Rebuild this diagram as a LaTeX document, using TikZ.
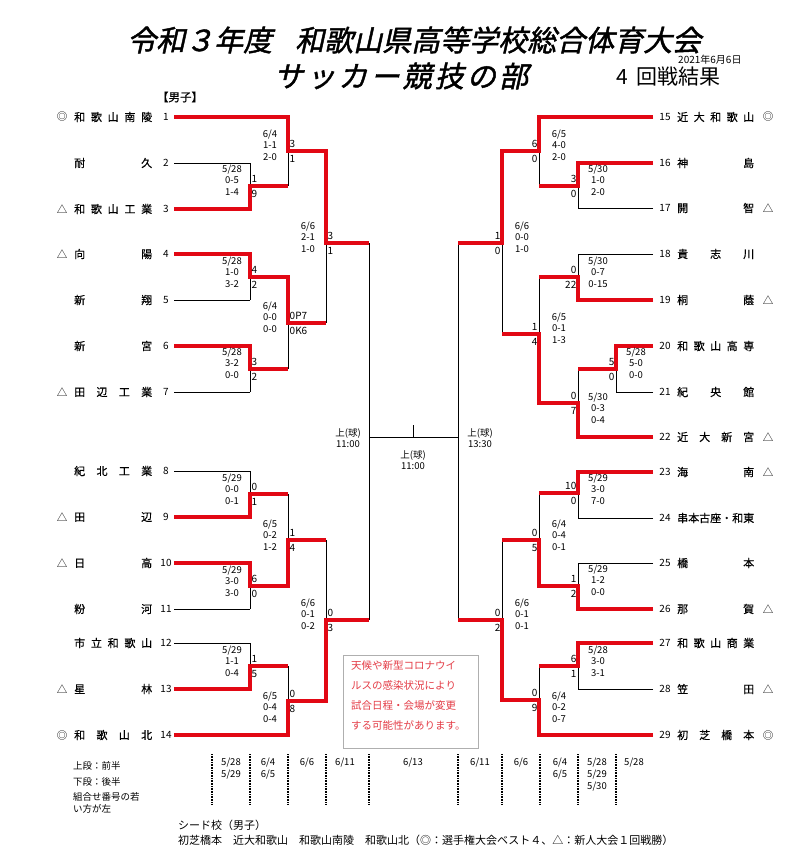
\documentclass[tikz,border=0pt]{standalone}
\usepackage{fontspec}
\setmainfont{Noto Sans CJK JP}
\newfontfamily\ttlfont[FakeSlant=0.22,FakeBold=1.5]{Noto Sans CJK JP}
\newfontfamily\subfont[FakeBold=0.6]{Noto Sans CJK JP}
\newfontfamily\namefont[FakeBold=0.4]{Noto Sans CJK JP}
\definecolor{brk}{RGB}{226,8,20}
\definecolor{notered}{RGB}{228,60,70}
\definecolor{boxgray}{RGB}{175,175,175}
\newcommand\LM[7]{%
  \node[sc,anchor=west] (#1a) at (#2+1.5,#3-7.5) {#4};
  \node[sc,anchor=west] (#1b) at (#2+1.5,#3+7.5) {#5};
  \node[dt] (#1d) at (#2-18,#6) {#7};}
\newcommand\RM[7]{%
  \node[sc,anchor=east] (#1a) at (#2-1.5,#3-7.5) {#4};
  \node[sc,anchor=east] (#1b) at (#2-1.5,#3+7.5) {#5};
  \node[dt] (#1d) at (#2+20,#6) {#7};}
\begin{document}
\begin{tikzpicture}[x=1pt,y=-1pt,
  blk/.style={line width=1pt,black},
  win/.style={line width=4pt,brk},
  nm/.style={inner sep=0pt,font=\namefont\fontsize{11}{13}\selectfont},
  num/.style={inner sep=0pt,font=\fontsize{10}{12}\selectfont},
  mk/.style={inner sep=0pt,font=\fontsize{10.5}{12}\selectfont},
  sc/.style={inner sep=0pt,font=\fontsize{10}{12}\selectfont},
  dt/.style={inner sep=0pt,align=center,font=\fontsize{9.5}{11.5}\selectfont},
  small/.style={inner sep=0pt,font=\fontsize{9.5}{11.5}\selectfont},
  dots/.style={line width=1.5pt,dash pattern=on 0.8pt off 0.8pt}]
\useasboundingbox (0,0) rectangle (800,847);
\fill[white] (0,0) rectangle (800,847);

% ---------- titles ----------
\node[inner sep=0pt,anchor=west,font=\ttlfont\fontsize{29}{32}\selectfont] (title) at (127,40)
  {\makebox[574pt][s]{令和３年度\hfill 和歌山県高等学校総合体育大会}};
\node[inner sep=0pt,anchor=west,font=\ttlfont\fontsize{29}{32}\selectfont] (sub) at (274,76)
  {\makebox[254pt][s]{サ\hfill ッ\hfill カ\hfill ー\hfill 競\hfill 技\hfill の\hfill 部}};
\node[inner sep=0pt,anchor=west,font=\fontsize{21}{23}\selectfont] (round) at (616,77)
  {\makebox[104pt][s]{4\hfill 回戦結果}};
\node[inner sep=0pt,anchor=west,font=\fontsize{10}{12}\selectfont] (date) at (678,59.5) {2021年6月6日};
\node[inner sep=0pt,font=\subfont\fontsize{11.5}{13}\selectfont] (boys) at (180,97) {【男子】};

% ---------- black bracket lines ----------
\foreach \y/\x in {117/288,163/250,209/250,254/250,300/250,346/250,392/250,
                   471/250,517/250,563/250,609/250,643/250,689/250,735/288}
  \draw[blk] (174,\y)--(\x,\y);
\draw[blk] (250,163)--(250,209) (250,186)--(288,186);
\draw[blk] (250,254)--(250,300) (250,277)--(288,277);
\draw[blk] (250,346)--(250,392) (250,369)--(288,369);
\draw[blk] (288,117)--(288,186) (288,151)--(326,151);
\draw[blk] (288,277)--(288,369) (288,323)--(326,323);
\draw[blk] (326,151)--(326,323) (326,243)--(369,243);
\draw[blk] (250,471)--(250,517) (250,494)--(288,494);
\draw[blk] (250,563)--(250,609) (250,586)--(288,586);
\draw[blk] (250,643)--(250,689) (250,666)--(288,666);
\draw[blk] (288,494)--(288,586) (288,540)--(326,540);
\draw[blk] (288,666)--(288,735) (288,701)--(326,701);
\draw[blk] (326,540)--(326,701) (326,620)--(369,620);
\draw[blk] (369,243)--(369,620) (369,437)--(458,437) (413,425)--(413,437);
\draw[blk] (458,243)--(458,620);
\foreach \y/\x in {117/539,163/578,208/578,254/578,300/578,346/616,392/616,437/578,
                   472/578,518/578,563/578,609/578,643/578,689/578,735/539}
  \draw[blk] (653,\y)--(\x,\y);
\draw[blk] (578,163)--(578,208) (578,186)--(539,186);
\draw[blk] (578,254)--(578,300) (578,277)--(539,277);
\draw[blk] (616,346)--(616,392) (616,369)--(578,369);
\draw[blk] (578,369)--(578,437) (578,403)--(539,403);
\draw[blk] (539,117)--(539,186) (539,151)--(502,151);
\draw[blk] (539,277)--(539,403) (539,334)--(502,334);
\draw[blk] (502,151)--(502,334) (502,243)--(458,243);
\draw[blk] (578,472)--(578,518) (578,493)--(539,493);
\draw[blk] (578,563)--(578,609) (578,586)--(539,586);
\draw[blk] (578,643)--(578,689) (578,666)--(539,666);
\draw[blk] (539,493)--(539,586) (539,540)--(502,540);
\draw[blk] (539,666)--(539,735) (539,700)--(502,700);
\draw[blk] (502,540)--(502,700) (502,620)--(458,620);

% ---------- winners (red) ----------
\draw[win] (174,117)--(288,117)--(288,151)--(326,151)--(326,243)--(369,243);
\draw[win] (174,209)--(250,209)--(250,186)--(288,186);
\draw[win] (174,254)--(250,254)--(250,277)--(288,277)--(288,323)--(326,323);
\draw[win] (174,346)--(250,346)--(250,369)--(288,369);
\draw[win] (174,517)--(250,517)--(250,494)--(288,494);
\draw[win] (174,563)--(250,563)--(250,586)--(288,586)--(288,540)--(326,540);
\draw[win] (174,689)--(250,689)--(250,666)--(288,666);
\draw[win] (174,735)--(288,735)--(288,701)--(326,701)--(326,620)--(369,620);
\draw[win] (653,117)--(539,117)--(539,151)--(502,151)--(502,243)--(458,243);
\draw[win] (653,163)--(578,163)--(578,186)--(539,186);
\draw[win] (653,300)--(578,300)--(578,277)--(539,277);
\draw[win] (653,346)--(616,346)--(616,369)--(578,369);
\draw[win] (653,437)--(578,437)--(578,403)--(539,403)--(539,334)--(502,334);
\draw[win] (653,472)--(578,472)--(578,493)--(539,493);
\draw[win] (653,609)--(578,609)--(578,586)--(539,586)--(539,540)--(502,540);
\draw[win] (653,643)--(578,643)--(578,666)--(539,666);
\draw[win] (653,735)--(539,735)--(539,700)--(502,700)--(502,620)--(458,620);

% ---------- left teams ----------
\foreach \n/\y/\m/\t in {
  1/117/◎/{和\hfill 歌\hfill 山\hfill 南\hfill 陵},
  2/163//{耐\hfill 久},
  3/209/△/{和\hfill 歌\hfill 山\hfill 工\hfill 業},
  4/254/△/{向\hfill 陽},
  5/300//{新\hfill 翔},
  6/346//{新\hfill 宮},
  7/392/△/{田\hfill 辺\hfill 工\hfill 業},
  8/471//{紀\hfill 北\hfill 工\hfill 業},
  9/517/△/{田\hfill 辺},
  10/563/△/{日\hfill 高},
  11/609//{粉\hfill 河},
  12/643//{市\hfill 立\hfill 和\hfill 歌\hfill 山},
  13/689/△/{星\hfill 林},
  14/735/◎/{和\hfill 歌\hfill 山\hfill 北}}{
  \node[mk] (mk\n) at (62,\y) {\m};
  \node[nm,anchor=west] (tm\n) at (74,\y) {\makebox[78pt][s]{\t}};
  \node[num] (no\n) at (166,\y) {\n};
}
% ---------- right teams ----------
\foreach \n/\y/\m/\t in {
  15/117/◎/{近\hfill 大\hfill 和\hfill 歌\hfill 山},
  16/163//{神\hfill 島},
  17/208/△/{開\hfill 智},
  18/254//{貴\hfill 志\hfill 川},
  19/300/△/{桐\hfill 蔭},
  20/346//{和\hfill 歌\hfill 山\hfill 高\hfill 専},
  21/392//{紀\hfill 央\hfill 館},
  22/437/△/{近\hfill 大\hfill 新\hfill 宮},
  23/472/△/{海\hfill 南},
  24/518//{串\hfill 本\hfill 古\hfill 座\hfill ・\hfill 和\hfill 東},
  25/563//{橋\hfill 本},
  26/609/△/{那\hfill 賀},
  27/643//{和\hfill 歌\hfill 山\hfill 商\hfill 業},
  28/689/△/{笠\hfill 田},
  29/735/◎/{初\hfill 芝\hfill 橋\hfill 本}}{
  \node[num] (no\n) at (665,\y) {\n};
  \node[nm,anchor=west] (tm\n) at (677,\y) {\makebox[77pt][s]{\t}};
  \node[mk] (mk\n) at (768,\y) {\m};
}

% ---------- scores, left ----------
\LM{ma}{250}{186}{1}{9}{180}{5/28\\0-5\\1-4}
\LM{mb}{250}{277}{4}{2}{272}{5/28\\1-0\\3-2}
\LM{mc}{250}{369}{3}{2}{363}{5/28\\3-2\\0-0}
\LM{md}{288}{151}{3}{1}{145}{6/4\\1-1\\2-0}
\LM{me}{288}{323}{0P7}{0K6}{317}{6/4\\0-0\\0-0}
\LM{mf}{326}{243}{3}{1}{237}{6/6\\2-1\\1-0}
\LM{mg}{250}{494}{0}{1}{489}{5/29\\0-0\\0-1}
\LM{mh}{250}{586}{6}{0}{581}{5/29\\3-0\\3-0}
\LM{mi}{250}{666}{1}{5}{661}{5/29\\1-1\\0-4}
\LM{mj}{288}{540}{1}{4}{535}{6/5\\0-2\\1-2}
\LM{mk}{288}{701}{0}{8}{707}{6/5\\0-4\\0-4}
\LM{ml}{326}{620}{0}{3}{614}{6/6\\0-1\\0-2}
% ---------- scores, right ----------
\RM{na}{578}{186}{3}{0}{180}{5/30\\1-0\\2-0}
\RM{nb}{578}{277}{0}{22}{272}{5/30\\0-7\\0-15}
\RM{nc}{616}{369}{5}{0}{363}{5/28\\5-0\\0-0}
\RM{nd}{578}{403}{0}{7}{408}{5/30\\0-3\\0-4}
\RM{ne}{539}{151}{6}{0}{145}{6/5\\4-0\\2-0}
\RM{nf}{539}{334}{1}{4}{328}{6/5\\0-1\\1-3}
\RM{ng}{502}{243}{1}{0}{237}{6/6\\0-0\\1-0}
\RM{nh}{578}{493}{10}{0}{489}{5/29\\3-0\\7-0}
\RM{ni}{578}{586}{1}{2}{580}{5/29\\1-2\\0-0}
\RM{nj}{578}{666}{6}{1}{661}{5/28\\3-0\\3-1}
\RM{nk}{539}{540}{0}{5}{535}{6/4\\0-4\\0-1}
\RM{nl}{539}{700}{0}{9}{707}{6/4\\0-2\\0-7}
\RM{nm}{502}{620}{0}{2}{614}{6/6\\0-1\\0-1}

% ---------- centre labels ----------
\node[dt] (cl) at (348,438) {上(球)\\11:00};
\node[dt] (cm) at (413,460) {上(球)\\11:00};
\node[dt] (cr) at (480,438) {上(球)\\13:30};

% ---------- notice ----------
\node[draw=boxgray,line width=0.8pt,minimum width=135pt,minimum height=93pt,inner sep=0pt] (noticebox) at (410.5,701.5) {};
\node[inner sep=0pt,anchor=north west,align=left,text=notered,
      font=\fontsize{10.5}{19.8}\selectfont] (notice) at (351,661)
  {天候や新型コロナウイ\\ルスの感染状況により\\試合日程・会場が変更\\する可能性があります。};

% ---------- bottom schedule ----------
\foreach \x in {212,250,288,326,369,458,502,540,578,616}
  \draw[dots] (\x,754)--(\x,805);
\node[small] (d1) at (231,763) {5/28};
\node[small] (d2) at (231,775) {5/29};
\node[small] (d3) at (268,763) {6/4};
\node[small] (d4) at (268,775) {6/5};
\node[small] (d5) at (307,763) {6/6};
\node[small] (d6) at (345,763) {6/11};
\node[small] (d7) at (413,763) {6/13};
\node[small] (d8) at (480,763) {6/11};
\node[small] (d9) at (521,763) {6/6};
\node[small] (d10) at (560,763) {6/4};
\node[small] (d11) at (560,775) {6/5};
\node[small] (d12) at (597,763) {5/28};
\node[small] (d13) at (597,775) {5/29};
\node[small] (d14) at (597,786.5) {5/30};
\node[small] (d15) at (634,763) {5/28};
\node[small,anchor=west] (k1) at (73,766) {上段：前半};
\node[small,anchor=west] (k2) at (73,782) {下段：後半};
\node[small,anchor=west] (k3) at (73,797) {組合せ番号の若};
\node[small,anchor=west] (k4) at (73,809) {い方が左};
\node[inner sep=0pt,anchor=west,font=\fontsize{11}{13}\selectfont] (seed) at (178,825) {シード校（男子）};
\node[inner sep=0pt,anchor=west,font=\fontsize{11}{13}\selectfont] (seeds) at (178,840)
  {初芝橋本　近大和歌山　和歌山南陵　和歌山北（◎：選手権大会ベスト４、△：新人大会１回戦勝）};
\end{tikzpicture}
\end{document}
